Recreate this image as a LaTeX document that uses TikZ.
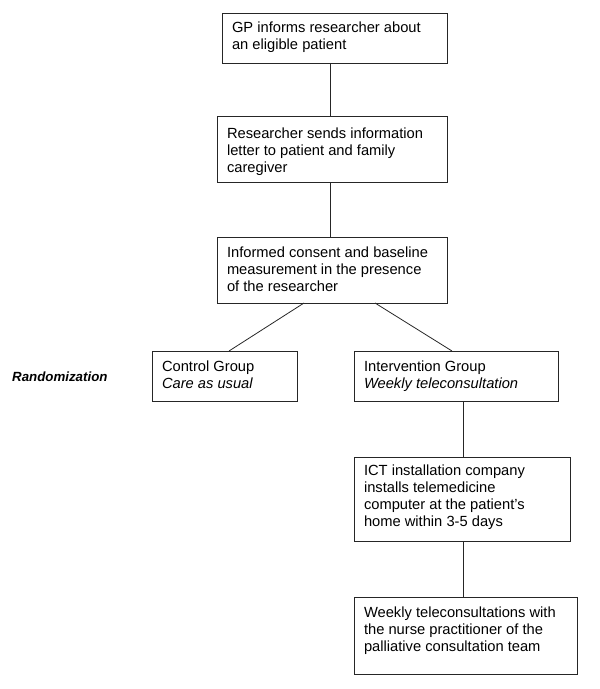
\documentclass[tikz,border=0pt]{standalone}
\usepackage{fontspec}
\setmainfont{Liberation Sans}
\newcommand\bxt[4]{\parbox[c][#2bp][t]{\dimexpr#1bp-20bp\relax}{\fontsize{14.7bp}{17bp}\selectfont\raggedright\rule{0pt}{#3bp}#4}}
\begin{document}
\begin{tikzpicture}[x=1bp,y=-1bp,
  boxst/.style={draw=black!85, line width=0.8bp, inner xsep=10bp, inner ysep=0pt, anchor=north west, outer sep=0pt},
  link/.style={draw=black!85, line width=0.8bp}]
\useasboundingbox (0,0) rectangle (600,689);
\node[boxst] (b1) at (222,13) {\bxt{225}{50}{20}{GP informs researcher about\\an eligible patient}};
\node[boxst] (b2) at (217,116) {\bxt{230}{66}{22}{Researcher sends information\\letter to patient and family\\caregiver}};
\node[boxst] (b3) at (217,237) {\bxt{230}{66}{20}{Informed consent and baseline\\measurement in the presence\\of the researcher}};
\node[boxst] (ctrl) at (152,351) {\bxt{145}{50}{20}{Control Group\\\textit{Care as usual}}};
\node[boxst] (intv) at (354,351) {\bxt{204}{50}{20}{Intervention Group\\\textit{Weekly teleconsultation}}};
\node[boxst] (ict) at (354,457) {\bxt{216}{84}{18}{ICT installation company\\installs telemedicine\\computer at the patient’s\\home within 3-5 days}};
\node[boxst] (wk) at (354,597) {\bxt{223}{77}{20}{Weekly teleconsultations with\\the nurse practitioner of the\\palliative consultation team}};
\node[anchor=west, inner sep=0pt, font=\fontsize{13.3bp}{16bp}\selectfont\bfseries\itshape] (rand) at (12,377) {Randomization};
\coordinate (vx) at (330,0);
\coordinate (vy) at (463,0);
\draw[link] (b1.south -| vx) -- (b2.north -| vx);
\draw[link] (b2.south -| vx) -- (b3.north -| vx);
\draw[link] ([xshift=-28bp]b3.south) -- ([xshift=4.5bp]ctrl.north);
\draw[link] ([xshift=43bp]b3.south) -- ([xshift=-4bp]intv.north);
\draw[link] (intv.south -| vy) -- (ict.north -| vy);
\draw[link] (ict.south -| vy) -- (wk.north -| vy);
\end{tikzpicture}
\end{document}
